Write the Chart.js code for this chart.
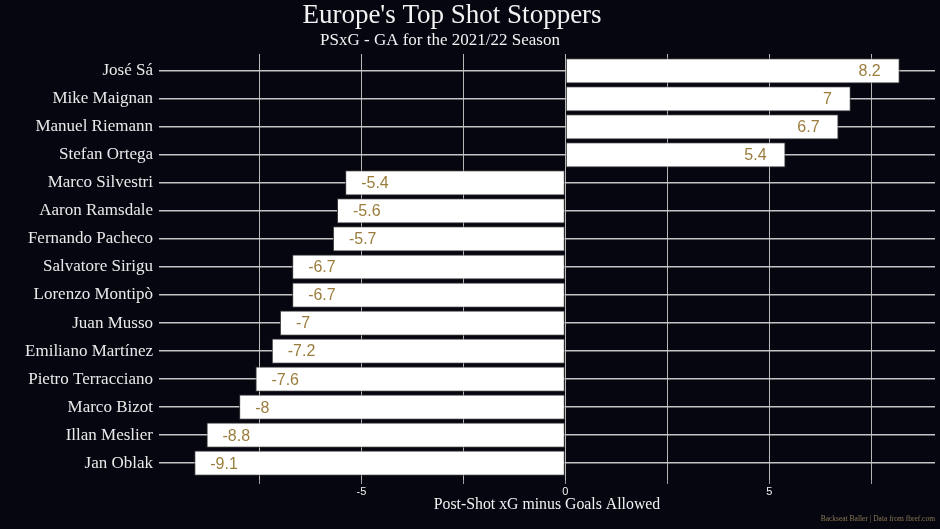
<!DOCTYPE html>
<html>
<head>
<meta charset="utf-8">
<script src="https://cdn.jsdelivr.net/npm/chart.js@4.4.0/dist/chart.umd.min.js"></script>
<style>
  html, body { margin: 0; padding: 0; background: #05060f; }
  #wrap { width: 940px; height: 529px; position: relative; }
</style>
</head>
<body>
<div id="wrap"><canvas id="keepersChart"></canvas></div>
<script>
// goalkeepers, top to bottom
const keepers = [
  'José Sá', 'Mike Maignan', 'Manuel Riemann', 'Stefan Ortega', 'Marco Silvestri',
  'Aaron Ramsdale', 'Fernando Pacheco', 'Salvatore Sirigu', 'Lorenzo Montipò', 'Juan Musso',
  'Emiliano Martínez', 'Pietro Terracciano', 'Marco Bizot', 'Illan Meslier', 'Jan Oblak'
];
// PSxG - GA
const psxgMinusGa = [8.2, 7, 6.7, 5.4, -5.4, -5.6, -5.7, -6.7, -6.7, -7, -7.2, -7.6, -8, -8.8, -9.1];
const xTickValues = [-7.5, -5, -2.5, 0, 2.5, 5, 7.5];
const xTickLabels = ['', '-5', '', '0', '', '5', ''];

const serif = '"Liberation Serif", "Times New Roman", serif';
const sans = '"Liberation Sans", Arial, sans-serif';

// title + subtitle, drawn by hand so they sit where the original has them
const headings = {
  id: 'headings',
  afterDraw(chart) {
    const ctx = chart.ctx;
    ctx.save();
    ctx.fillStyle = '#f2f2f2';
    ctx.textAlign = 'center';
    ctx.textBaseline = 'alphabetic';
    ctx.font = '27px ' + serif;
    ctx.fillText("Europe's Top Shot Stoppers", 452, 23);
    ctx.font = '17px ' + serif;
    ctx.fillText('PSxG - GA for the 2021/22 Season', 440, 45);
    // caption
    ctx.font = '7.5px ' + serif;
    ctx.fillStyle = '#8c7a55';
    ctx.textAlign = 'right';
    ctx.textBaseline = 'middle';
    ctx.fillText('Backseat Baller | Data from fbref.com', 935, 519);
    ctx.restore();
  }
};

const valueLabels = {
  id: 'valueLabels',
  afterDatasetsDraw(chart) {
    const ctx = chart.ctx;
    const meta = chart.getDatasetMeta(0);
    ctx.save();
    ctx.font = '16px ' + sans;
    ctx.fillStyle = '#9a7d3c';
    ctx.textBaseline = 'middle';
    meta.data.forEach((bar, i) => {
      const v = psxgMinusGa[i];
      if (v >= 0) {
        ctx.textAlign = 'right';
        ctx.fillText(String(v), bar.x - 19, bar.y + 1);
      } else {
        ctx.textAlign = 'left';
        ctx.fillText(String(v), bar.x + 16, bar.y + 1);
      }
    });
    ctx.restore();
  }
};

new Chart(document.getElementById('keepersChart'), {
  type: 'bar',
  data: {
    datasets: [{
      data: psxgMinusGa.map((v, i) => ({ x: v, y: i })),
      backgroundColor: '#ffffff',
      borderColor: '#3a3a3a',
      borderWidth: 1,
      borderSkipped: false,
      barPercentage: 0.9,
      categoryPercentage: 1
    }]
  },
  options: {
    indexAxis: 'y',
    responsive: true,
    maintainAspectRatio: false,
    animation: false,
    layout: { padding: { left: 0, right: 5, top: 54, bottom: 15 } },
    plugins: {
      legend: { display: false },
      tooltip: { enabled: false }
    },
    scales: {
      x: {
        type: 'linear',
        min: -9.965,
        max: 9.065,
        afterBuildTicks: scale => { scale.ticks = xTickValues.map(v => ({ value: v })); },
        afterFit: scale => { scale.height = 34; },
        ticks: {
          color: '#f2f2f2',
          font: { family: sans, size: 11 },
          padding: 1,
          maxRotation: 0,
          callback: (v, i) => xTickLabels[i]
        },
        grid: { color: '#b8b8b8', lineWidth: 1, tickLength: 4, tickColor: '#9a9a9a' },
        border: { display: false },
        title: {
          display: true,
          text: 'Post-Shot xG minus Goals Allowed',
          color: '#f2f2f2',
          font: { family: serif, size: 15.8 },
          padding: { top: 0, bottom: 0 }
        }
      },
      y: {
        type: 'linear',
        min: -0.6,
        max: 14.6,
        reverse: true,
        offset: false,
        afterBuildTicks: scale => { scale.ticks = keepers.map((k, i) => ({ value: i })); },
        afterFit: scale => { scale.width = 159; },
        ticks: {
          color: '#eaeaea',
          font: { family: serif, size: 17 },
          padding: 6,
          autoSkip: false,
          callback: (v, i) => keepers[i]
        },
        grid: { color: '#c4c4c4', lineWidth: 1.5, drawTicks: false, offset: false },
        border: { display: false }
      }
    }
  },
  plugins: [valueLabels, headings]
});
</script>
</body>
</html>
